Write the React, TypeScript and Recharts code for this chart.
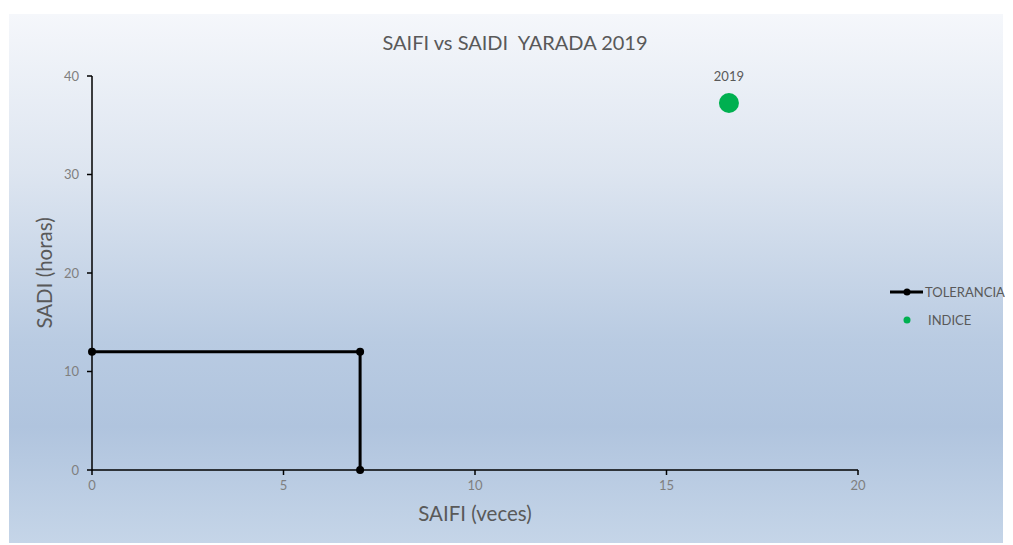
import { ScatterChart, Scatter, XAxis, YAxis, Legend, LabelList, Label } from 'recharts';

const xTicks = [0, 5, 10, 15, 20];
const yTicks = [0, 10, 20, 30, 40];

const toleranciaSaifi = [0, 7, 7];
const toleranciaSaidi = [12, 12, 0];

const indiceSaifi = [16.63];
const indiceSaidi = [37.26];
const indiceYears = ['2019'];

const tolerancia = toleranciaSaifi.map((x, i) => ({ x, y: toleranciaSaidi[i] }));
const indice = indiceSaifi.map((x, i) => ({ x, y: indiceSaidi[i], year: indiceYears[i] }));

const FONT = 'Lato, "Open Sans", sans-serif';

function LegendBox() {
  return (
    <div style={{ fontFamily: FONT, fontSize: 13, color: '#595959', whiteSpace: 'nowrap', overflow: 'visible' }}>
      <div style={{ display: 'flex', alignItems: 'center', height: 20 }}>
        <svg width={35} height={10} style={{ flexShrink: 0 }}>
          <line x1={0} y1={5} x2={33} y2={5} stroke="#000" strokeWidth={3} />
          <circle cx={17} cy={5} r={3.5} fill="#000" />
        </svg>
        <span>TOLERANCIA</span>
      </div>
      <div style={{ display: 'flex', alignItems: 'center', height: 20, marginTop: 8 }}>
        <svg width={38} height={10} style={{ flexShrink: 0 }}>
          <circle cx={17} cy={5} r={3.5} fill="#00b050" />
        </svg>
        <span>INDICE</span>
      </div>
    </div>
  );
}

export default function App() {
  return (
    <div style={{ width: 1005, height: 537 }}>
      <div
        style={{
          position: 'relative',
          marginLeft: 1,
          marginTop: 6,
          width: 994,
          height: 529,
          background: 'linear-gradient(to bottom, #f5f7fb 0%, #dde5f0 30%, #b9cbe2 62%, #b0c4de 78%, #c5d5e8 100%)',
        }}
      >
        <div
          style={{
            position: 'absolute',
            top: 16,
            left: 0,
            width: 1012,
            textAlign: 'center',
            fontFamily: FONT,
            fontSize: 20,
            color: '#595959',
            whiteSpace: 'pre',
          }}
        >
          {'SAIFI vs SAIDI  YARADA 2019'}
        </div>
        <ScatterChart width={994} height={529} margin={{ top: 62, right: 29, left: 23, bottom: 43 }}>
          <XAxis
            type="number"
            dataKey="x"
            domain={[0, 20]}
            ticks={xTicks}
            axisLine={{ stroke: '#000', strokeWidth: 1.5 }}
            tickLine={{ stroke: '#000', strokeWidth: 1.5 }}
            tickSize={5}
            tickMargin={6}
            height={30}
            tick={{ fontSize: 13, fill: '#7f7f7f', fontFamily: FONT }}
          >
            <Label value="SAIFI (veces)" position="bottom" offset={6} style={{ fontSize: 20.5, fill: '#595959', fontFamily: FONT }} />
          </XAxis>
          <YAxis
            type="number"
            dataKey="y"
            domain={[0, 40]}
            ticks={yTicks}
            axisLine={{ stroke: '#000', strokeWidth: 1.5 }}
            tickLine={{ stroke: '#000', strokeWidth: 1.5 }}
            tickSize={5}
            tickMargin={8}
            width={60}
            tick={{ fontSize: 13, fill: '#7f7f7f', fontFamily: FONT }}
          >
            <Label
              value="SADI (horas)"
              angle={-90}
              position="insideLeft"
              offset={13}
              style={{ textAnchor: 'middle', fontSize: 20.5, fill: '#595959', fontFamily: FONT }}
            />
          </YAxis>
          <Legend
            layout="vertical"
            align="right"
            verticalAlign="top"
            wrapperStyle={{ top: 268, right: -3, width: 116, overflow: 'visible' }}
            content={() => <LegendBox />}
          />
          <Scatter
            name="TOLERANCIA"
            data={tolerancia}
            fill="#000"
            line={{ stroke: '#000', strokeWidth: 3 }}
            lineType="joint"
            shape={(p: any) => <circle cx={p.cx} cy={p.cy} r={4} fill="#000" />}
            isAnimationActive={false}
          />
          <Scatter
            name="INDICE"
            data={indice}
            fill="#00b050"
            shape={(p: any) => <circle cx={p.cx} cy={p.cy} r={10} fill="#00b050" />}
            isAnimationActive={false}
          >
            <LabelList dataKey="year" position="top" offset={17} style={{ fontSize: 13, fill: '#595959', fontFamily: FONT }} />
          </Scatter>
        </ScatterChart>
      </div>
    </div>
  );
}
